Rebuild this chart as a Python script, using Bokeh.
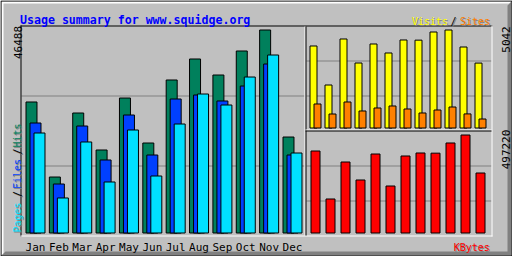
import math
from bokeh.plotting import figure
from bokeh.models import Range1d
from bokeh.core.properties import value
from bokeh.embed import file_html
from bokeh.resources import INLINE

# ---------------- data ----------------
TITLE = "Usage summary for www.squidge.org"
months = ["Jan", "Feb", "Mar", "Apr", "May", "Jun",
          "Jul", "Aug", "Sep", "Oct", "Nov", "Dec"]
hits   = [30000, 12820, 27480, 19010, 30910, 20610, 35040, 39850, 36180, 41680, 46488, 21980]
files  = [25190, 11220, 24500, 16720, 27020, 17860, 30690, 31600, 30230, 33660, 38700, 17860]
pages  = [22900,  8020, 20840, 11680, 23590, 13050, 24960, 31830, 29310, 35720, 40760, 18320]
visits = [4219, 2212, 4579, 3344, 4322, 3859, 4528, 4520, 4939, 5042, 4167, 3340]
sites  = [1235,  720, 1338,  875, 1029, 1132,  978,  772,  926, 1080,  725,  463]
kbytes = [416040, 172510, 360230, 268910, 400820, 238460,
          390680, 405900, 405100, 456640, 497220, 304420]

# ---------------- styles ----------------
GREY, DKGREY = "#C0C0C0", "#808080"
C_HITS, C_FILES, C_PAGES = "#00805C", "#0040FF", "#00E0FF"
C_VISITS, C_SITES, C_KB = "#FFFF00", "#FF8000", "#FF0000"
C_TITLE = "#0000FF"
FONT = value("DejaVu Sans Mono")
SMALL = "11px"
LEG = "10px"
W, H = 512, 256

def xr(v0, p0, v1, p1):
    k = (p1 - p0) / (v1 - v0)
    s = v0 - p0 / k
    return Range1d(start=s, end=s + W / k)

def yr(v0, p0, v1, p1):
    d = (p0 - p1) / (v1 - v0)
    e = v0 + p0 / d
    return Range1d(start=e - H / d, end=e)

p = figure(width=W, height=H, x_range=Range1d(0, W), y_range=Range1d(H, 0),
           output_backend="svg", toolbar_location=None, min_border=0,
           x_axis_location=None, y_axis_location=None,
           background_fill_color=GREY, border_fill_color=GREY,
           outline_line_color=None)
p.grid.visible = False

n = len(months)
idx = list(range(n))
p.extra_x_ranges = {
    "main": xr(0, 35.0, n - 1, 292.0),
    "right": xr(0, 315.0, n - 1, 315.0 + 15 * (n - 1)),
}
p.extra_y_ranges = {
    "hits": yr(0, 232.5, max(hits), 29.5),
    "visits": yr(0, 127.5, max(visits), 29.5),
    "kb": yr(0, 232.5, max(kbytes), 134.5),
}

# ---------------- frame decoration ----------------
p.patch(x=[1, 511, 509, 3, 3, 1], y=[1, 1, 3, 3, 253, 255], fill_color="white", line_color=None)
p.patch(x=[511, 511, 1, 5, 507, 507], y=[1, 255, 255, 251, 251, 5], fill_color=DKGREY, line_color=None)
p.quad(left=[0.5], right=[511.5], top=[0.5], bottom=[255.5], fill_color=None, line_color="black", line_width=1)

def seg(x0, y0, x1, y1, color):
    p.segment(x0=[x0], y0=[y0], x1=[x1], y1=[y1], line_color=color, line_width=1)

# grid lines
for gy in (95.5, 165.5):
    seg(21, gy, 304, gy, DKGREY)
for gy in (60.5, 95.5, 165.5, 200.5):
    seg(306, gy, 491, gy, DKGREY)

# panel edges
seg(20, 25.5, 492, 25.5, "black")
seg(20.5, 25, 20.5, 236, "black")
seg(491.5, 25, 491.5, 236, "white")
seg(20, 235.5, 492, 235.5, "white")
seg(304.5, 26, 304.5, 235, "white")
seg(305.5, 26, 305.5, 235, "black")
seg(305, 129.5, 491, 129.5, "white")
seg(305, 130.5, 491, 130.5, "black")

# ---------------- bars ----------------
mu = 23.364  # pixels per month in main panel
def mx(off):
    return [i + off / mu for i in idx]

p.vbar(x=mx(-4), top=hits, bottom=0, width=11 / mu, fill_color=C_HITS, line_color="black",
       x_range_name="main", y_range_name="hits")
p.vbar(x=mx(0), top=files, bottom=0, width=11 / mu, fill_color=C_FILES, line_color="black",
       x_range_name="main", y_range_name="hits")
p.vbar(x=mx(4), top=pages, bottom=0, width=11 / mu, fill_color=C_PAGES, line_color="black",
       x_range_name="main", y_range_name="hits")

p.vbar(x=[i - 2 / 15 for i in idx], top=visits, bottom=0, width=7 / 15, fill_color=C_VISITS,
       line_color="black", x_range_name="right", y_range_name="visits")
p.vbar(x=[i + 2 / 15 for i in idx], top=sites, bottom=0, width=7 / 15, fill_color=C_SITES,
       line_color="black", x_range_name="right", y_range_name="visits")
p.vbar(x=idx, top=kbytes, bottom=0, width=9 / 15, fill_color=C_KB,
       line_color="black", x_range_name="right", y_range_name="kb")

# ---------------- texts ----------------
def txt(x, y, s, color, align="center", angle=0.0, size=SMALL, style="normal", shadow=False):
    if shadow:
        p.text(x=[x + 1], y=[y + 1], text=[s], text_color=DKGREY, text_font=FONT,
               text_font_size=size, text_font_style=style, text_align=align,
               text_baseline="alphabetic", angle=angle)
    p.text(x=[x], y=[y], text=[s], text_color=color, text_font=FONT,
           text_font_size=size, text_font_style=style, text_align=align,
           text_baseline="alphabetic", angle=angle)

txt(19.5, 19.5, TITLE, C_TITLE, align="left", size="11.6px", style="bold")

txt(429.5, 21.0, "Visits", C_VISITS, size=LEG, shadow=True)
txt(453.0, 21.0, "/", "black", size=LEG, shadow=True)
txt(474.5, 21.0, "Sites", C_SITES, size=LEG, shadow=True)
txt(471.3, 247.0, "KBytes", C_KB, size=LEG, shadow=True)

up = math.pi / 2
txt(17.0, 217.0, "Pages", C_PAGES, angle=up, size=LEG, shadow=True)
txt(17.0, 193.5, "/", "black", angle=up, size=LEG, shadow=True)
txt(17.0, 173.5, "Files", C_FILES, angle=up, size=LEG, shadow=True)
txt(17.0, 151.0, "/", "black", angle=up, size=LEG, shadow=True)
txt(17.0, 135.0, "Hits", C_HITS, angle=up, size=LEG, shadow=True)

txt(17.3, 42.0, str(max(hits)), "black", angle=up)
txt(505.0, 39.0, str(max(visits)), "black", angle=up)
txt(505.0, 149.0, str(max(kbytes)), "black", angle=up)

p.text(x=idx, y=[247.0] * n, text=months, text_color="black", text_font=FONT,
       text_font_size=SMALL, text_align="center", text_baseline="alphabetic",
       x_range_name="main")

open("out.html", "w").write(file_html(p, INLINE))
